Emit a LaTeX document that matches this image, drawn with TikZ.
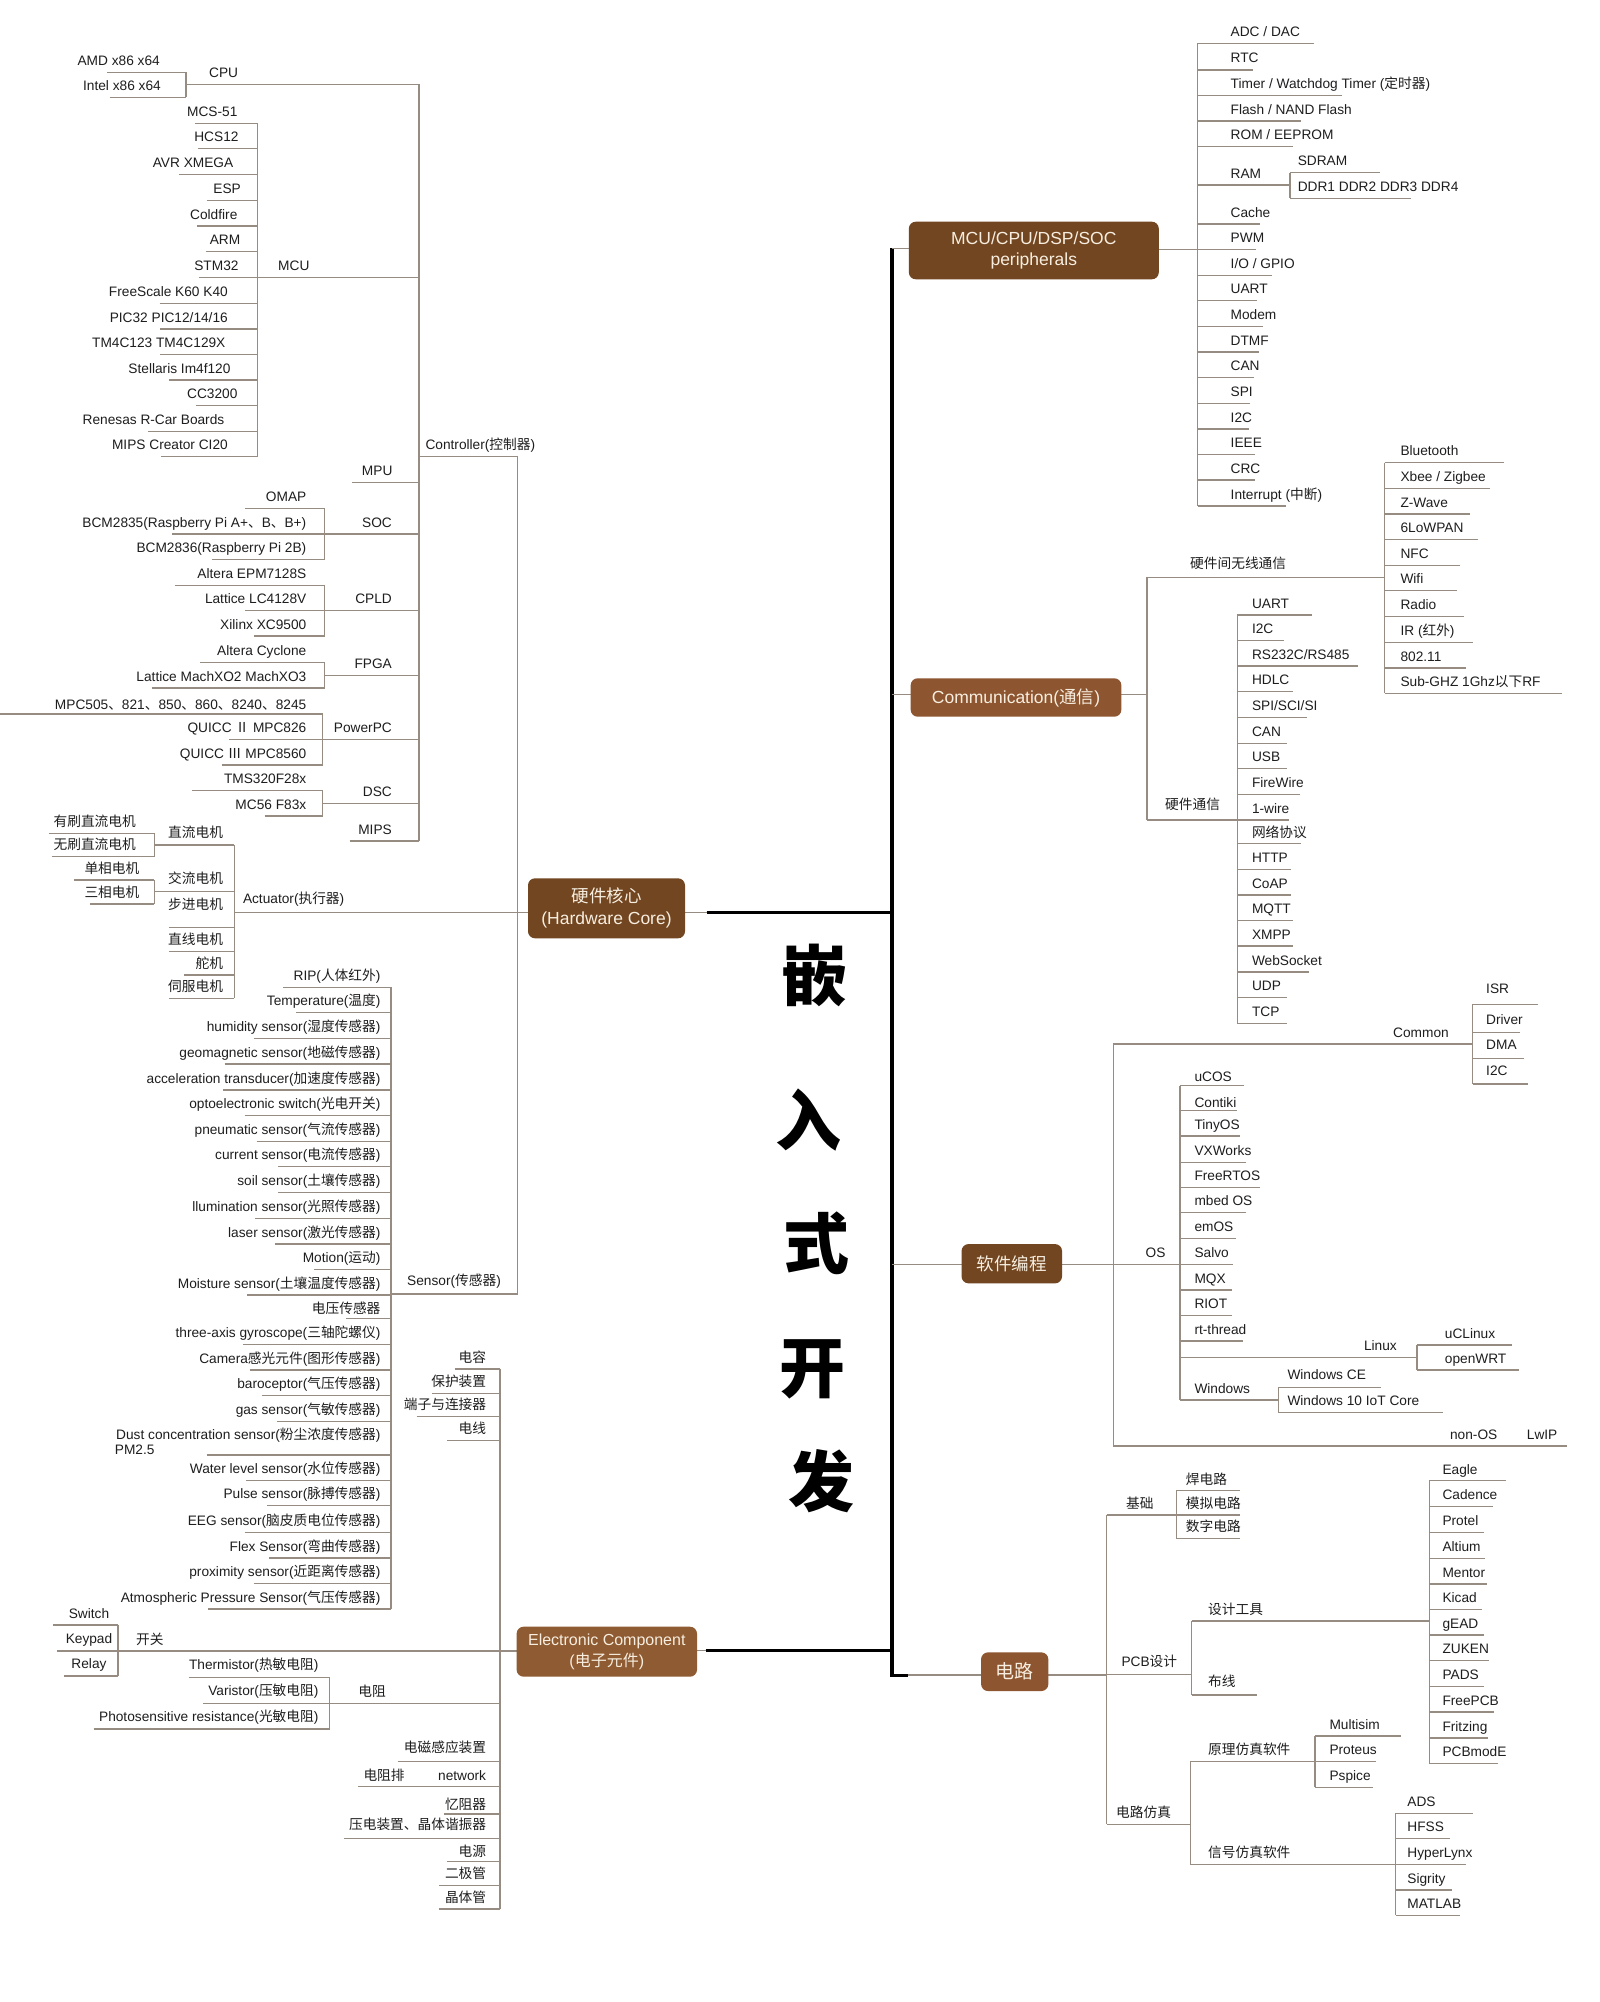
\documentclass[tikz,border=0pt]{standalone}
\usepackage{fontspec}
\setmainfont{Liberation Sans}
\newfontfamily\cjk{Noto Sans CJK SC}
\newcommand\cj[1]{{\cjk #1}}
\newcounter{nd}
\definecolor{lncol}{RGB}{150,140,130}
\definecolor{tcol}{RGB}{30,30,30}
\definecolor{brA}{RGB}{114,70,33}
\definecolor{brB}{RGB}{141,86,48}
\definecolor{brC}{RGB}{143,91,50}
\definecolor{cream}{RGB}{247,238,224}
\tikzset{
  ln/.style={draw=lncol, line width=1.3pt},
  trunk/.style={draw=black, line width=3.4pt},
  lb/.style={font=\fontsize{13.7}{16}\selectfont, text=tcol, inner sep=0pt},
  topic/.style={rounded corners=7pt, text=cream, align=center, inner sep=0pt},
}
% left leaf: [baseline offset]{text right x}{underline y}{underline left x}{bracket x}{text}
\newcommand\mmL[6][7]{\stepcounter{nd}\node[lb,anchor=base east] (n\arabic{nd}) at (#2,#3-#1) {#6};\draw[ln] (#4,#3) -- (#5,#3);}
% right leaf: [baseline offset]{text left x}{underline y}{bracket x}{underline right x}{text}
\newcommand\mmR[6][7]{\stepcounter{nd}\node[lb,anchor=base west] (n\arabic{nd}) at (#2,#3-#1) {#6};\draw[ln] (#4,#3) -- (#5,#3);}
\newcommand\mmV[3]{\draw[ln] (#1,#2) -- (#1,#3);}
\newcommand\mmH[3]{\draw[ln] (#2,#1) -- (#3,#1);}
\newcommand\mmT[4][west]{\stepcounter{nd}\node[lb,anchor=base #1] (n\arabic{nd}) at (#2,#3) {#4};}
\begin{document}
\begin{tikzpicture}[x=1pt,y=-1pt]
\fill[white] (0,0) rectangle (1600,2002);
\useasboundingbox (0,0) rectangle (1600,2002);

% ================= trunk =================
\coordinate (ttop) at (892,248.3);
\coordinate (tbot) at (892,1677);
\draw[trunk] (ttop) -- (tbot);
\draw[line width=3pt] (706.7,912.7) -- (892,912.7);
\draw[line width=3pt] (705.6,1650.7) -- (892,1650.7);
\draw[line width=3pt] (892,1675) -- (907.8,1675);
\draw[ln] (ttop) -- (908.8,248.3);
\draw[ln] (892,694.7) -- (910.6,694.7);
\draw[ln] (892,1264.3) -- (961.5,1264.3);
\draw[ln] (907.8,1675) -- (981,1675);
\draw[ln] (685,912.7) -- (706.7,912.7);
\draw[ln] (697,1650.7) -- (705.6,1650.7);

% ================= CPU =================
\mmL{160}{72.3}{107}{186}{AMD x86 x64}
\mmL{161}{97.3}{109.5}{186}{Intel x86 x64}
\mmV{186}{72.3}{97.3}
\mmH{84.3}{186}{419}
\mmT{209}{77.3}{CPU}

% ================= MCU =================
\mmL{237.6}{123.3}{195.3}{257.3}{MCS-51}
\mmL{238.7}{148.7}{198}{257.3}{HCS12}
\mmL{233.5}{174.3}{179.1}{257.3}{AVR XMEGA}
\mmL{241}{200.3}{206.6}{257.3}{ESP}
\mmL{237.6}{226}{197}{257.3}{Coldfire}
\mmL{240.4}{251.7}{206}{257.3}{ARM}
\mmL{238.7}{277.3}{198.7}{257.3}{STM32}
\mmL{228}{303.3}{159.5}{257.3}{FreeScale K60 K40}
\mmL{228}{329}{160.1}{257.3}{PIC32 PIC12/14/16}
\mmL{225.6}{354.3}{160.1}{257.3}{TM4C123 TM4C129X}
\mmL{230.7}{380}{169.4}{257.3}{Stellaris Im4f120}
\mmL{237.6}{405.7}{196.3}{257.3}{CC3200}
\mmL{224.5}{431.3}{148.1}{257.3}{Renesas R-Car Boards}
\mmL{228}{456.7}{161.2}{257.3}{MIPS Creator CI20}
\mmV{257.3}{123.3}{456.7}
\mmH{277.3}{257.3}{419}
\mmT{278}{270.3}{MCU}

% ================= Controller =================
\mmV{419}{84.3}{841}
\mmH{456.7}{419}{517.6}
\mmT{425.3}{449.7}{Controller(\cj{控制器})}
\mmH{482.3}{352}{419}
\mmT[east]{392.6}{475.3}{MPU}

\mmL{306.5}{508.3}{245}{324.8}{OMAP}
\mmL{306.5}{534}{172}{324.8}{BCM2835(Raspberry Pi A+\cj{、}B\cj{、}B+)}
\mmL{306.5}{559.7}{212}{324.8}{BCM2836(Raspberry Pi 2B)}
\mmV{324.8}{508.3}{559.7}
\mmH{534}{324.8}{419}
\mmT[east]{392}{527}{SOC}

\mmL{306.5}{585.3}{174.6}{324.8}{Altera EPM7128S}
\mmL{306.5}{610.7}{245}{324.8}{Lattice LC4128V}
\mmL{306.5}{636}{253.8}{324.8}{Xilinx XC9500}
\mmV{324.8}{585.3}{636}
\mmH{610.7}{324.8}{419}
\mmT[east]{392}{603.7}{CPLD}

\mmL{306.5}{662.3}{200.4}{324.8}{Altera Cyclone}
\mmL{306.5}{688}{151.5}{324.8}{Lattice MachXO2 MachXO3}
\mmV{324.8}{662.3}{688}
\mmH{675.3}{324.8}{419}
\mmT[east]{392}{668}{FPGA}

\mmL[5]{306.5}{714}{0}{322.7}{MPC505\cj{、}821\cj{、}850\cj{、}860\cj{、}8240\cj{、}8245}
\mmL{306.5}{739.3}{229}{322.7}{QUICC \cj{Ⅱ} MPC826}
\mmL{306.5}{765}{221.5}{322.7}{QUICC \cj{Ⅲ} MPC8560}
\mmV{322.7}{714}{765}
\mmH{739.3}{322.7}{419}
\mmT[east]{392}{732}{PowerPC}

\mmL{306.5}{790.7}{192.2}{322.7}{TMS320F28x}
\mmL{306.5}{816}{264.5}{322.7}{MC56 F83x}
\mmV{322.7}{790.7}{816}
\mmH{803.3}{322.7}{419}
\mmT[east]{392}{796.4}{DSC}

\mmH{841}{349.6}{419}
\mmT[east]{392}{834.7}{MIPS}

% hardware bracket
\mmV{517.6}{456.7}{1294}

% ================= Actuator =================
\mmL{136}{833.3}{49}{154.3}{\cj{有刷直流电机}}
\mmL{136}{856.7}{51.7}{154.3}{\cj{无刷直流电机}}
\mmV{154.3}{833.3}{856.7}
\mmH{845}{154.3}{234.2}
\mmT[east]{223.2}{837.4}{\cj{直流电机}}
\mmL{139.5}{880}{74}{154.3}{\cj{单相电机}}
\mmL{139.5}{904}{90.2}{154.3}{\cj{三相电机}}
\mmV{154.3}{880}{904}
\mmH{891.7}{154.3}{234.2}
\mmT[east]{223.2}{883}{\cj{交流电机}}
\mmL[18.3]{223.2}{927.3}{168.8}{234.2}{\cj{步进电机}}
\mmL{223.2}{951.7}{168.8}{234.2}{\cj{直线电机}}
\mmL{223.2}{975}{184}{234.2}{\cj{舵机}}
\mmL{223.2}{998.3}{168.8}{234.2}{\cj{伺服电机}}
\mmV{234.2}{845}{998.3}
\mmH{912.7}{234.2}{528}
\mmT{242.8}{903}{Actuator(\cj{执行器})}

% ================= Sensor =================
\mmL{380.6}{987.3}{283}{390.9}{RIP(\cj{人体红外})}
\mmL{380.6}{1012.7}{296.2}{390.9}{Temperature(\cj{温度})}
\mmL{380.6}{1038.3}{254.2}{390.9}{humidity sensor(\cj{湿度传感器})}
\mmL{380.6}{1064}{224.5}{390.9}{geomagnetic sensor(\cj{地磁传感器})}
\mmL{380.6}{1090}{223}{390.9}{acceleration transducer(\cj{加速度传感器})}
\mmL{380.6}{1115.7}{244.5}{390.9}{optoelectronic switch(\cj{光电开关})}
\mmL{380.6}{1141.7}{256.6}{390.9}{pneumatic sensor(\cj{气流传感器})}
\mmL{380.6}{1166.7}{278.3}{390.9}{current sensor(\cj{电流传感器})}
\mmL{380.6}{1192.3}{278.3}{390.9}{soil sensor(\cj{土壤传感器})}
\mmL{380.6}{1218.3}{254.9}{390.9}{llumination sensor(\cj{光照传感器})}
\mmL{380.6}{1244}{274.5}{390.9}{laser sensor(\cj{激光传感器})}
\mmL{380.6}{1269.3}{314.1}{390.9}{Motion(\cj{运动})}
\mmL{380.6}{1295}{247.3}{390.9}{Moisture sensor(\cj{土壤温度传感器})}
\mmL[5.3]{380.6}{1318.3}{346}{390.9}{\cj{电压传感器}}
\mmL{380.6}{1344.3}{242.8}{390.9}{three-axis gyroscope(\cj{三轴陀螺仪})}
\mmL{380.6}{1370}{249.7}{390.9}{Camera\cj{感光元件}(\cj{图形传感器})}
\mmL{380.6}{1395.7}{261.7}{390.9}{baroceptor(\cj{气压传感器})}
\mmL{380.6}{1421.7}{277.2}{390.9}{gas sensor(\cj{气敏传感器})}
\mmT[east]{380.6}{1439.7}{Dust concentration sensor(\cj{粉尘浓度传感器})}
\mmT{114.7}{1454}{PM2.5}
\mmH{1455}{206.6}{390.9}
\mmL{380.6}{1480.7}{246}{390.9}{Water level sensor(\cj{水位传感器})}
\mmL{380.6}{1505.7}{267}{390.9}{Pulse sensor(\cj{脉搏传感器})}
\mmL{380.6}{1532.3}{244.5}{390.9}{EEG sensor(\cj{脑皮质电位传感器})}
\mmL{380.6}{1558}{269.3}{390.9}{Flex Sensor(\cj{弯曲传感器})}
\mmL{380.6}{1583.3}{253.8}{390.9}{proximity sensor(\cj{近距离传感器})}
\mmL{380.6}{1609}{208.4}{390.9}{Atmospheric Pressure Sensor(\cj{气压传感器})}
\mmV{390.9}{987.3}{1609}
\mmH{1294}{390.9}{517.6}
\mmT{407}{1285.5}{Sensor(\cj{传感器})}

% ================= Electronic Component =================
\mmL{486.3}{1369}{454.6}{500.1}{\cj{电容}}
\mmL{486.3}{1393.3}{432.2}{500.1}{\cj{保护装置}}
\mmL{486.3}{1416.7}{416.7}{500.1}{\cj{端子与连接器}}
\mmL{486.3}{1440.7}{447}{500.1}{\cj{电线}}
\node[lb,anchor=base] (sw1) at (89,1618) {Switch};
\node[lb,anchor=base] (sw2) at (89,1643) {Keypad};
\node[lb,anchor=base] (sw3) at (89,1668.7) {Relay};
\mmH{1625}{53.4}{118.1}
\mmH{1651}{56.8}{118.1}
\mmH{1676}{64.4}{118.1}
\mmV{118.1}{1625}{1676}
\mmH{1651}{118.1}{516.6}
\mmT{136}{1644}{\cj{开关}}
\mmL[8]{318.6}{1677.7}{188.7}{329.6}{Thermistor(\cj{热敏电阻})}
\mmL[8]{318.6}{1703.3}{203.2}{329.6}{Varistor(\cj{压敏电阻})}
\mmL[8]{318.6}{1729}{93.7}{329.6}{Photosensitive resistance(\cj{光敏电阻})}
\mmV{329.6}{1677.7}{1729}
\mmH{1703.3}{329.6}{500.1}
\mmT{358.2}{1696.4}{\cj{电阻}}
\mmL[9.7]{486.3}{1761.7}{397.8}{500.1}{\cj{电磁感应装置}}
\mmL[6.3]{486.3}{1786.7}{358.2}{500.1}{network}
\mmT{363.3}{1780.4}{\cj{电阻排}}
\mmL[5]{486.3}{1814}{444.3}{500.1}{\cj{忆阻器}}
\mmL[8.6]{486.3}{1838.3}{344.4}{500.1}{\cj{压电装置、晶体谐振器}}
\mmL[5.3]{486.3}{1861.7}{446.7}{500.1}{\cj{电源}}
\mmL{486.3}{1885.7}{439.1}{500.1}{\cj{二极管}}
\mmL{486.3}{1909}{439.1}{500.1}{\cj{晶体管}}
\mmV{500.1}{1369}{1909}

% ================= Peripherals =================
\mmR{1230.5}{43.3}{1197.8}{1313.8}{ADC / DAC}
\mmR{1230.5}{70}{1197.8}{1252.9}{RTC}
\mmR{1230.5}{95.7}{1197.8}{1342.4}{Timer / Watchdog Timer (\cj{定时器})}
\mmR{1230.5}{121}{1197.8}{1301}{Flash / NAND Flash}
\mmR{1230.5}{146.7}{1197.8}{1292.5}{ROM / EEPROM}
\mmH{185}{1197.8}{1290}
\mmT{1230.5}{178}{RAM}
\mmR[7.3]{1297.6}{172.7}{1290}{1379.6}{SDRAM}
\mmR[7]{1297.6}{198.3}{1290}{1411.3}{DDR1 DDR2 DDR3 DDR4}
\mmV{1290}{172.7}{198.3}
\mmR{1230.5}{224}{1197.8}{1259.8}{Cache}
\mmR{1230.5}{249.3}{1197.8}{1256.3}{PWM}
\mmR{1230.5}{275.3}{1197.8}{1271.8}{I/O / GPIO}
\mmR{1230.5}{300.7}{1197.8}{1257}{UART}
\mmR{1230.5}{326.7}{1197.8}{1263.2}{Modem}
\mmR{1230.5}{352}{1197.8}{1259}{DTMF}
\mmR{1230.5}{377.7}{1197.8}{1253.6}{CAN}
\mmR{1230.5}{403.3}{1197.8}{1250}{SPI}
\mmR{1230.5}{429}{1197.8}{1249.4}{I2C}
\mmR{1230.5}{454.7}{1197.8}{1254.6}{IEEE}
\mmR{1230.5}{480}{1197.8}{1254.6}{CRC}
\mmR{1230.5}{506}{1197.8}{1285.6}{Interrupt (\cj{中断})}
\mmV{1197.8}{43.3}{506}
\mmH{249.3}{1158.8}{1197.8}

% ================= Communication =================
\mmH{694.7}{1121.3}{1147.1}
\mmV{1147.1}{577.3}{820}
\mmH{577.3}{1147.1}{1384.8}
\mmT{1190}{568}{\cj{硬件间无线通信}}
\mmR{1400.3}{462.7}{1384.8}{1504.3}{Bluetooth}
\mmR{1400.3}{488.3}{1384.8}{1489.8}{Xbee / Zigbee}
\mmR{1400.3}{514}{1384.8}{1469.8}{Z-Wave}
\mmR{1400.3}{539.3}{1384.8}{1478.4}{6LoWPAN}
\mmR{1400.3}{565.3}{1384.8}{1460.2}{NFC}
\mmR{1400.3}{590.7}{1384.8}{1456.7}{Wifi}
\mmR{1400.3}{616.7}{1384.8}{1463.6}{Radio}
\mmR{1400.3}{642.3}{1384.8}{1473.3}{IR (\cj{红外})}
\mmR{1400.3}{668}{1384.8}{1466.4}{802.11}
\mmR{1400.3}{693.3}{1384.8}{1561.8}{Sub-GHZ 1Ghz\cj{以下}RF}
\mmV{1384.8}{462.7}{693.3}
\mmH{820}{1147.1}{1237.4}
\mmT{1165}{809.7}{\cj{硬件通信}}
\mmR{1251.8}{615}{1237.4}{1312}{UART}
\mmR{1251.8}{640.7}{1237.4}{1283.9}{I2C}
\mmR{1251.8}{666}{1237.4}{1357.9}{RS232C/RS485}
\mmR{1251.8}{691.7}{1237.4}{1292.8}{HDLC}
\mmR{1251.8}{717.7}{1237.4}{1307.3}{SPI/SCI/SI}
\mmR{1251.8}{743.3}{1237.4}{1287.3}{CAN}
\mmR{1251.8}{768.7}{1237.4}{1287.3}{USB}
\mmR{1251.8}{794.3}{1237.4}{1300}{FireWire}
\mmR{1251.8}{820}{1237.4}{1289}{1-wire}
\mmR[6]{1251.8}{843.3}{1237.4}{1301}{\cj{网络协议}}
\mmR{1251.8}{869.3}{1237.4}{1291.4}{HTTP}
\mmR{1251.8}{895}{1237.4}{1291.4}{CoAP}
\mmR{1251.8}{920.7}{1237.4}{1292.8}{MQTT}
\mmR{1251.8}{946}{1237.4}{1292.8}{XMPP}
\mmR{1251.8}{972}{1237.4}{1308.7}{WebSocket}
\mmR{1251.8}{997.7}{1237.4}{1287.3}{UDP}
\mmR{1251.8}{1023.3}{1237.4}{1287}{TCP}
\mmV{1237.4}{615}{1023.3}

% ================= Software =================
\mmH{1264.3}{1062}{1113.4}
\mmV{1113.4}{1044}{1446}
\mmH{1044}{1113.4}{1472.6}
\mmT{1393}{1037.4}{Common}
\mmR[10.6]{1486}{1004.3}{1472.6}{1537.7}{ISR}
\mmR[7.6]{1486}{1032.3}{1472.6}{1519.8}{Driver}
\mmR[8.6]{1486}{1058.3}{1472.6}{1524.3}{DMA}
\mmR[8.3]{1486}{1084}{1472.6}{1527.7}{I2C}
\mmV{1472.6}{1004.3}{1084}
\mmH{1264.3}{1113.4}{1179.9}
\mmT{1145.4}{1257.4}{OS}
\mmR[4.3]{1194.3}{1085.7}{1179.9}{1244.3}{uCOS}
\mmR[3.3]{1194.3}{1110.7}{1179.9}{1237.4}{Contiki}
\mmR{1194.3}{1136}{1179.9}{1239.8}{TinyOS}
\mmR{1194.3}{1162.3}{1179.9}{1246}{VXWorks}
\mmR{1194.3}{1187.7}{1179.9}{1260.4}{FreeRTOS}
\mmR{1194.3}{1212.7}{1179.9}{1246}{mbed OS}
\mmR{1194.3}{1238.7}{1179.9}{1235.6}{emOS}
\mmR{1194.3}{1264.3}{1179.9}{1232.9}{Salvo}
\mmR{1194.3}{1290}{1179.9}{1231.5}{MQX}
\mmR{1194.3}{1315.7}{1179.9}{1232}{RIOT}
\mmR{1194.3}{1341}{1179.9}{1242.5}{rt-thread}
\mmH{1357.7}{1179.9}{1417.1}
\mmT{1363.8}{1350.7}{Linux}
\mmR{1444.7}{1345}{1417.1}{1511.8}{uCLinux}
\mmR{1444.7}{1370}{1417.1}{1519.1}{openWRT}
\mmV{1417.1}{1345}{1370}
\mmH{1400}{1179.9}{1278.7}
\mmT{1194.3}{1393}{Windows}
\mmR[7.6]{1287.3}{1387.3}{1278.7}{1381}{Windows CE}
\mmR[7.3]{1287.3}{1412.7}{1278.7}{1443}{Windows 10 IoT Core}
\mmV{1278.7}{1387.3}{1412.7}
\mmV{1179.9}{1085.7}{1400}
\mmH{1446}{1113.4}{1567}
\mmT{1449.9}{1439}{non-OS}
\mmT{1526.7}{1439}{LwIP}

% ================= 电路 =================
\mmH{1675}{1048.3}{1106.5}
\mmV{1106.5}{1515}{1824.3}
\mmH{1515}{1106.5}{1176.4}
\mmT{1126}{1508}{\cj{基础}}
\mmR[6]{1185.7}{1490.7}{1176.4}{1239.8}{\cj{焊电路}}
\mmR{1185.7}{1515}{1176.4}{1239.8}{\cj{模拟电路}}
\mmR{1185.7}{1538.3}{1176.4}{1239.8}{\cj{数字电路}}
\mmV{1176.4}{1490.7}{1538.3}
\mmH{1674.3}{1106.5}{1191.6}
\mmT{1121.3}{1666.4}{PCB\cj{设计}}
\mmV{1191.6}{1621}{1695}
\mmH{1621}{1191.6}{1429.2}
\mmT{1208}{1614}{\cj{设计工具}}
\mmR[8.6]{1208}{1695}{1191.6}{1257}{\cj{布线}}
\mmR[6.7]{1442.3}{1480.7}{1429.2}{1506}{Eagle}
\mmR{1442.3}{1506.7}{1429.2}{1493.3}{Cadence}
\mmR{1442.3}{1532.7}{1429.2}{1483.6}{Protel}
\mmR{1442.3}{1558.3}{1429.2}{1484.6}{Altium}
\mmR{1442.3}{1584}{1429.2}{1487}{Mentor}
\mmR{1442.3}{1609.3}{1429.2}{1482}{Kicad}
\mmR{1442.3}{1635}{1429.2}{1483.6}{gEAD}
\mmR{1442.3}{1660.7}{1429.2}{1488.8}{ZUKEN}
\mmR{1442.3}{1686.7}{1429.2}{1483.6}{PADS}
\mmR{1442.3}{1712}{1429.2}{1494}{FreePCB}
\mmR{1442.3}{1738}{1429.2}{1488}{Fritzing}
\mmR{1442.3}{1763.3}{1429.2}{1498}{PCBmodE}
\mmV{1429.2}{1480.7}{1763.3}
\mmH{1824.3}{1106.5}{1190.2}
\mmT{1116}{1817.4}{\cj{电路仿真}}
\mmV{1190.2}{1761.7}{1864.3}
\mmH{1761.7}{1190.2}{1314.9}
\mmT{1208}{1754.7}{\cj{原理仿真软件}}
\mmR{1329.3}{1736}{1314.9}{1401}{Multisim}
\mmR{1329.3}{1761.7}{1314.9}{1376.2}{Proteus}
\mmR{1329.3}{1787.3}{1314.9}{1372.7}{Pspice}
\mmV{1314.9}{1736}{1787.3}
\mmH{1864.3}{1190.2}{1395.8}
\mmT{1208}{1857.4}{\cj{信号仿真软件}}
\mmR{1407.2}{1813.3}{1395.8}{1473.3}{ADS}
\mmR{1407.2}{1838.7}{1395.8}{1450.2}{HFSS}
\mmR{1407.2}{1864.3}{1395.8}{1466.4}{HyperLynx}
\mmR{1407.2}{1890}{1395.8}{1452}{Sigrity}
\mmR{1407.2}{1915.3}{1395.8}{1460.2}{MATLAB}
\mmV{1395.8}{1813.3}{1915.3}

% ================= main topics =================
\node[topic, fill=brA, minimum width=250pt, minimum height=57.6pt, font=\fontsize{17.5}{21.7}\selectfont] (mcu) at (1033.8,250.5) {MCU/CPU/DSP/SOC\\peripherals};
\node[topic, fill=brA, minimum width=157pt, minimum height=60pt, font=\fontsize{17.5}{22}\selectfont] (hw) at (606.5,908.3) {\cj{硬件核心}\\(Hardware Core)};
\node[topic, fill=brB, minimum width=210.7pt, minimum height=38.4pt, font=\fontsize{17.5}{21}\selectfont] (comm) at (1016,697.5) {Communication(\cj{通信})};
\node[topic, fill=brA, minimum width=100.5pt, minimum height=39.3pt, font=\fontsize{17.5}{21}\selectfont] (soft) at (1011.8,1263.7) {\cj{软件编程}};
\node[topic, fill=brC, minimum width=180.4pt, minimum height=50pt, font=\fontsize{16}{20.6}\selectfont] (ec) at (606.8,1651.7) {Electronic Component\\(\cj{电子元件})};
\node[topic, fill=brB, minimum width=67.3pt, minimum height=38.7pt, font=\fontsize{19}{22}\selectfont] (circ) at (1014.7,1671.7) {\cj{电路}};

% ================= title =================
\tikzset{ttl/.style={font=\cjk\bfseries\fontsize{66}{66}\selectfont, inner sep=0pt}}
\node[ttl] (t1) at (814,975) {嵌};
\node[ttl] (t2) at (808,1120) {入};
\node[ttl] (t3) at (816.7,1243) {式};
\node[ttl] (t4) at (812,1369) {开};
\node[ttl] (t5) at (821,1481) {发};
\end{tikzpicture}
\end{document}
